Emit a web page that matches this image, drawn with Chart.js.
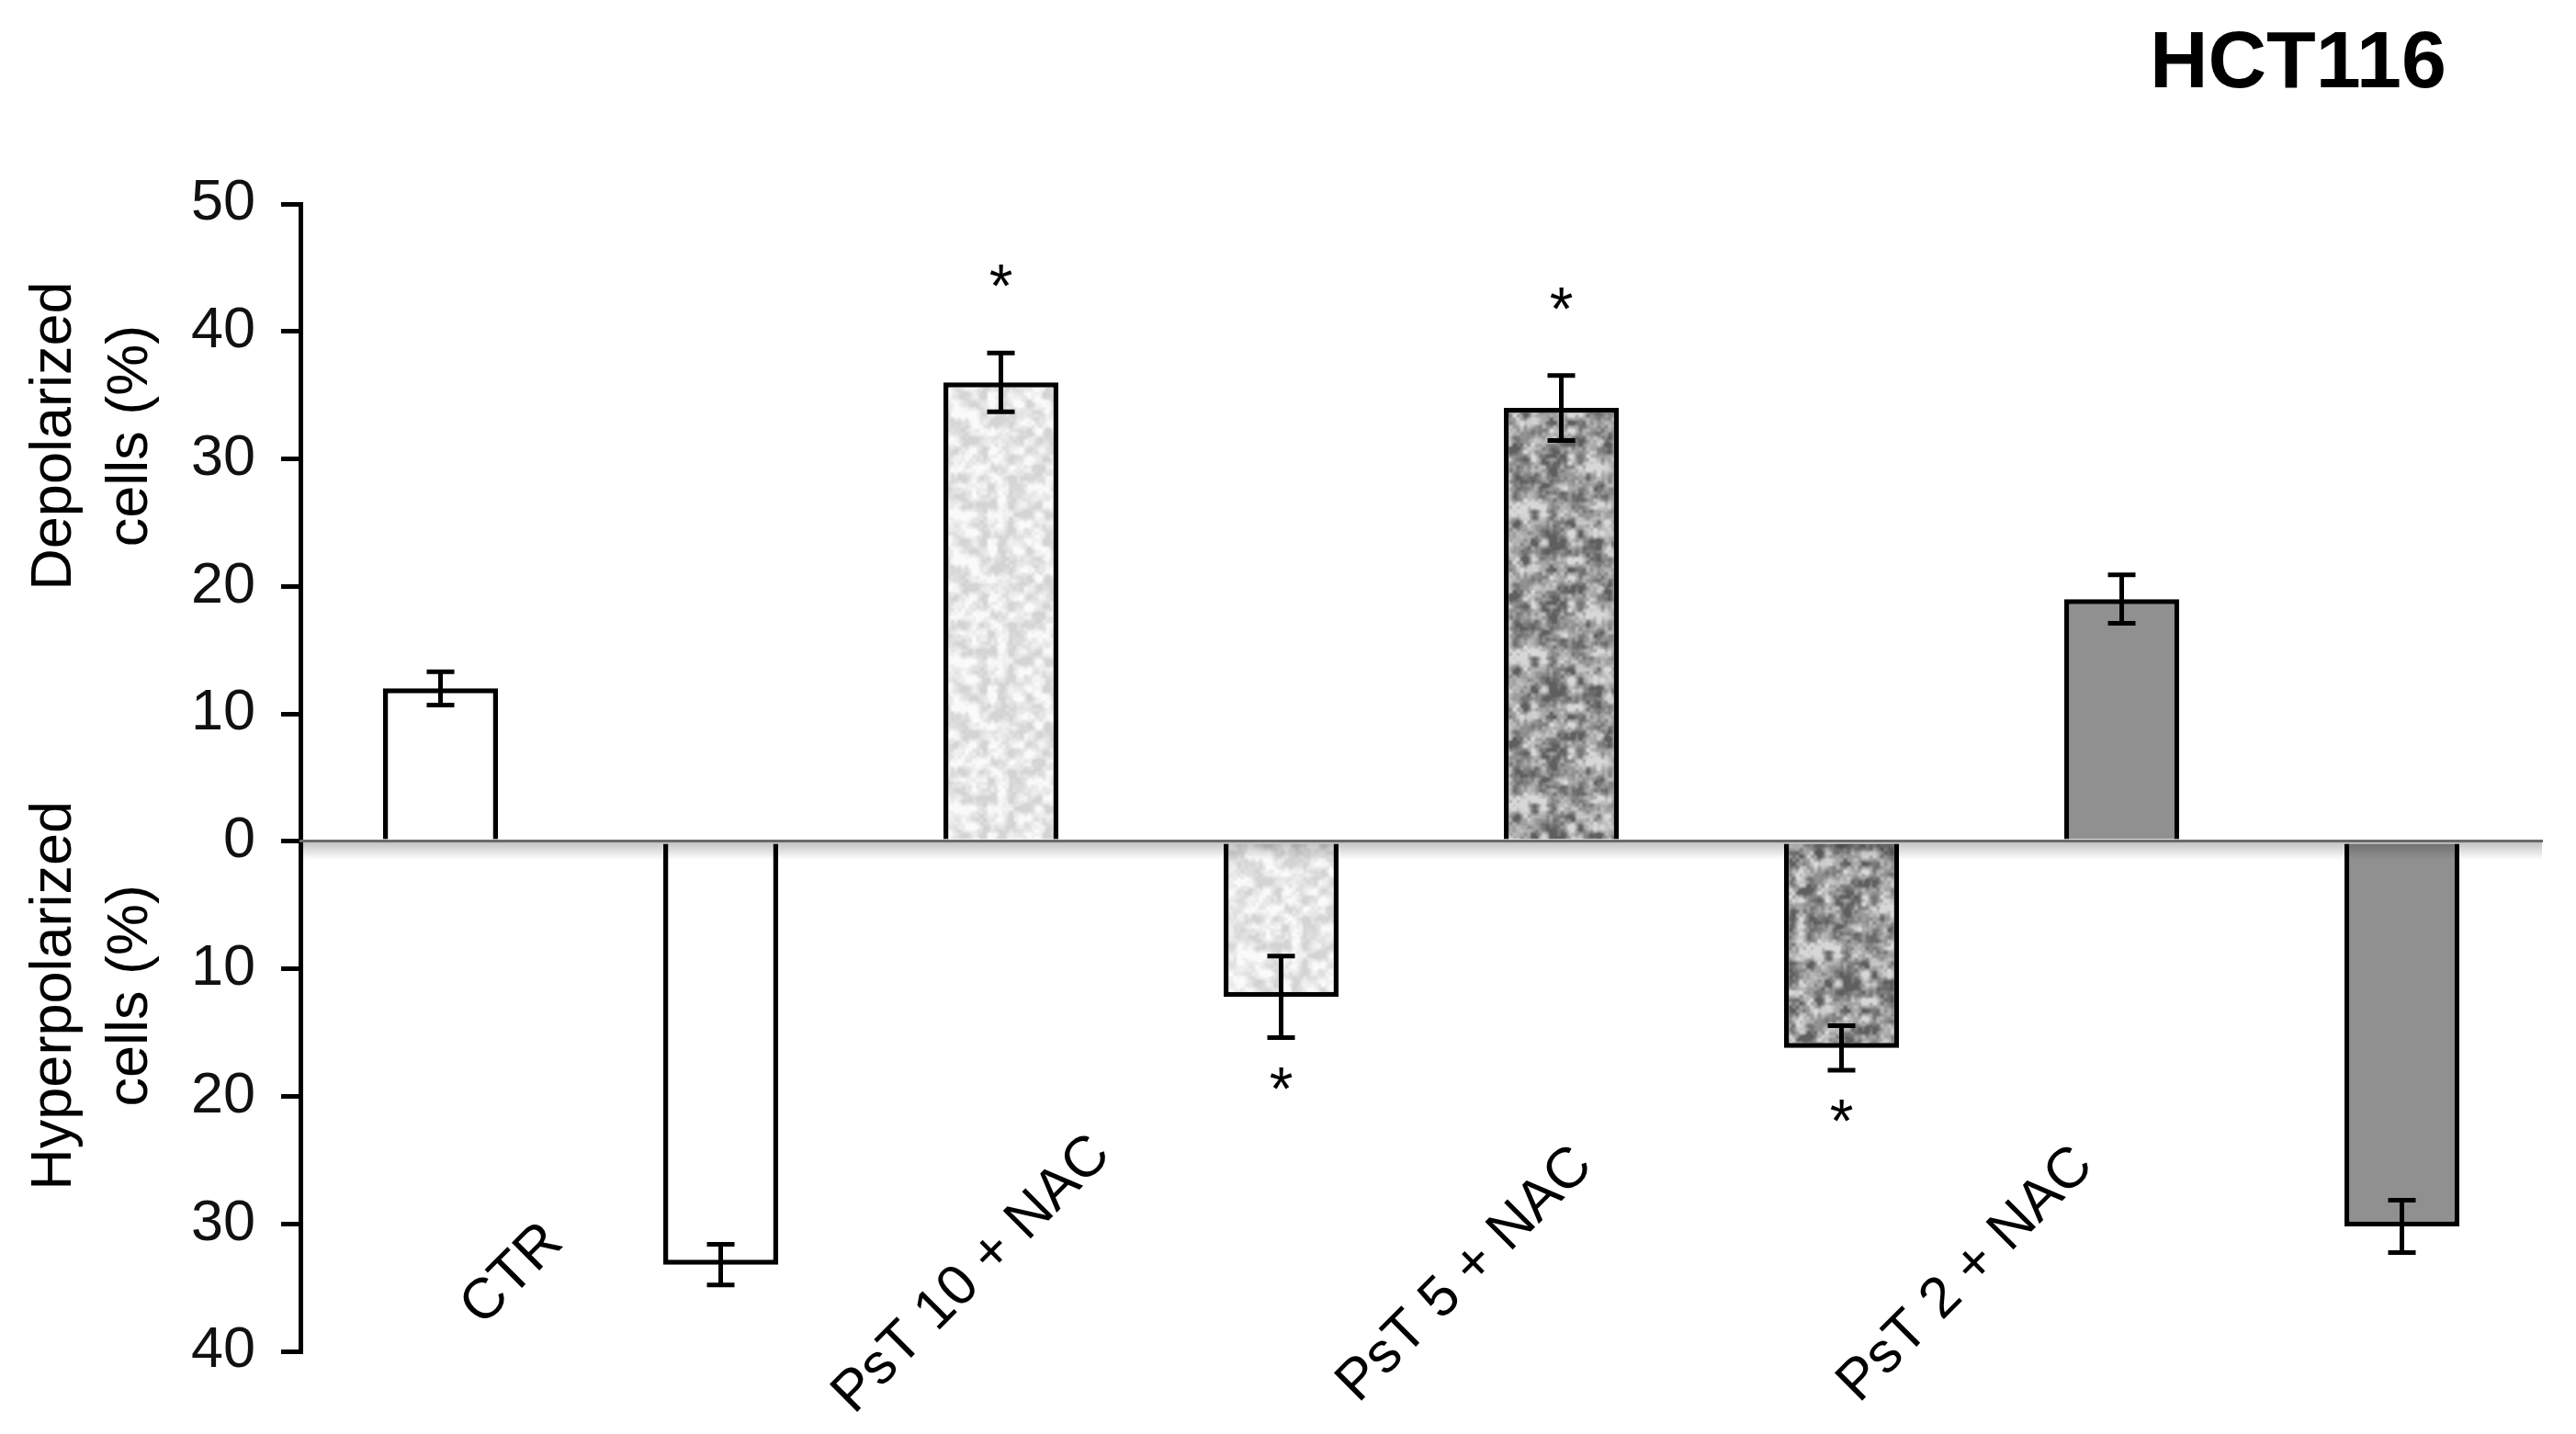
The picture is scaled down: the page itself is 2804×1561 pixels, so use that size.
<!DOCTYPE html>
<html>
<head>
<meta charset="utf-8">
<title>HCT116 membrane potential</title>
<script src="https://cdn.jsdelivr.net/npm/chart.js@4.4.1/dist/chart.umd.min.js"></script>
<style>
  html, body { margin: 0; padding: 0; background: #fff; }
  #chart { display: block; }
</style>
</head>
<body>
<canvas id="chart" width="2804" height="1561"></canvas>
<script>
// values (%)
const categories = ['CTR', 'PsT 10 + NAC', 'PsT 5 + NAC', 'PsT 2 + NAC'];
const depolarized = [12, 36, 34, 19];
const depolarizedErr = [1.3, 2.3, 2.55, 1.9];
const hyperpolarized = [-33.2, -12.2, -16.2, -30.2];
const hyperpolarizedErr = [1.6, 3.2, 1.75, 2.05];
const depolarizedStar = [false, true, true, false];
const hyperpolarizedStar = [false, true, true, false];
const yTicks = [-40, -30, -20, -10, 0, 10, 20, 30, 40, 50];
const yTitles = [['Depolarized', 'cells (%)'], ['Hyperpolarized', 'cells (%)']];

// layout of the hand placed texts
const labelLevel = -34;                 // y value where the rotated labels sit
const labelShift = [-74, -184, -257, -322];
const titleLevels = [31.8, -12.1];

const FONT = "'Liberation Sans', Arial, Helvetica, sans-serif";

// mottled fill like the original bar textures (deterministic value noise)
function speckle(light, dark, cell, contrast, seed) {
  const size = 160;
  let s = seed;
  const rnd = () => { s = (s * 1664525 + 1013904223) >>> 0; return s / 4294967296; };
  const grid = c => {
    const n = size / c;
    const vals = [];
    for (let i = 0; i < n * n; i++) vals.push(rnd());
    return (px, py) => {
      const fx = px / c, fy = py / c;
      const ix = Math.floor(fx), iy = Math.floor(fy);
      const tx = fx - ix, ty = fy - iy;
      const sx = tx * tx * (3 - 2 * tx), sy = ty * ty * (3 - 2 * ty);
      const at = (a, b) => vals[(b % n) * n + (a % n)];
      const top = at(ix, iy) * (1 - sx) + at(ix + 1, iy) * sx;
      const bot = at(ix, iy + 1) * (1 - sx) + at(ix + 1, iy + 1) * sx;
      return top * (1 - sy) + bot * sy;
    };
  };
  const coarse = grid(cell);
  const fine = grid(4);
  const c = document.createElement('canvas');
  c.width = c.height = size;
  const g = c.getContext('2d');
  const img = g.createImageData(size, size);
  for (let py = 0; py < size; py++) {
    for (let px = 0; px < size; px++) {
      let v = 0.7 * coarse(px, py) + 0.3 * fine(px, py);
      v = Math.min(1, Math.max(0, (v - 0.5) * contrast + 0.5));
      const grey = Math.round(light - (light - dark) * v);
      const k = (py * size + px) * 4;
      img.data[k] = img.data[k + 1] = img.data[k + 2] = grey;
      img.data[k + 3] = 255;
    }
  }
  g.putImageData(img, 0, 0);
  return g.createPattern(c, 'repeat');
}

const ctx = document.getElementById('chart').getContext('2d');
const fills = ['#ffffff', speckle(250, 212, 10, 2.0, 7), speckle(215, 95, 10, 1.7, 31), '#909090'];

function drawCentered(ctx, text, x, y) {
  const m = ctx.measureText(text);
  const shift = (m.actualBoundingBoxAscent - m.actualBoundingBoxDescent) / 2;
  ctx.fillText(text, x, y + shift);
}

const overlay = {
  id: 'overlay',
  afterDatasetsDraw(chart) {
    const { ctx, chartArea, scales: { y } } = chart;
    const zero = y.getPixelForValue(0);
    ctx.save();
    // soft shadow under the zero line
    const grad = ctx.createLinearGradient(0, zero, 0, zero + 20);
    grad.addColorStop(0, 'rgba(0,0,0,0.25)');
    grad.addColorStop(1, 'rgba(0,0,0,0)');
    ctx.fillStyle = grad;
    ctx.fillRect(chartArea.left, zero, chartArea.right - chartArea.left, 20);

    // error bars and significance marks
    const series = [
      [depolarized, depolarizedErr, depolarizedStar],
      [hyperpolarized, hyperpolarizedErr, hyperpolarizedStar]
    ];
    ctx.strokeStyle = '#000';
    ctx.fillStyle = '#000';
    ctx.lineWidth = 5;
    ctx.font = `66px ${FONT}`;
    ctx.textAlign = 'center';
    ctx.textBaseline = 'alphabetic';
    series.forEach(([vals, errs, stars], d) => {
      chart.getDatasetMeta(d).data.forEach((bar, i) => {
        const hi = y.getPixelForValue(vals[i] + errs[i]);
        const lo = y.getPixelForValue(vals[i] - errs[i]);
        ctx.beginPath();
        ctx.moveTo(bar.x, hi); ctx.lineTo(bar.x, lo);
        ctx.moveTo(bar.x - 15, hi); ctx.lineTo(bar.x + 15, hi);
        ctx.moveTo(bar.x - 15, lo); ctx.lineTo(bar.x + 15, lo);
        ctx.stroke();
        if (stars[i]) {
          drawCentered(ctx, '*', bar.x, vals[i] >= 0 ? hi - 84 : lo + 44);
        }
      });
    });
    ctx.restore();
  },
  afterDraw(chart) {
    const { ctx, scales: { x, y } } = chart;
    ctx.save();
    ctx.fillStyle = '#000';

    // rotated category labels
    ctx.font = `62px ${FONT}`;
    ctx.textAlign = 'center';
    ctx.textBaseline = 'middle';
    categories.forEach((name, i) => {
      ctx.save();
      ctx.translate(x.getPixelForValue(i) + labelShift[i], y.getPixelForValue(labelLevel));
      ctx.rotate(-Math.PI / 4);
      ctx.fillText(name, 0, 0);
      ctx.restore();
    });

    // two-line axis titles
    ctx.font = `63px ${FONT}`;
    yTitles.forEach((lines, k) => {
      ctx.save();
      ctx.translate(0, y.getPixelForValue(titleLevels[k]));
      ctx.rotate(-Math.PI / 2);
      ctx.fillText(lines[0], 0, 60);
      ctx.fillText(lines[1], 0, 143);
      ctx.restore();
    });

    // panel title
    ctx.font = `bold 88px ${FONT}`;
    ctx.textAlign = 'left';
    ctx.textBaseline = 'alphabetic';
    ctx.fillText('HCT116', 2340, 95);
    ctx.restore();
  }
};

const barStyle = {
  backgroundColor: fills,
  borderColor: '#000',
  borderWidth: 5.5,
  borderSkipped: 'start',
  categoryPercentage: 1,
  barPercentage: 0.41
};

new Chart(ctx, {
  type: 'bar',
  data: {
    labels: categories,
    datasets: [
      { label: 'Depolarized cells (%)', data: depolarized, ...barStyle },
      { label: 'Hyperpolarized cells (%)', data: hyperpolarized, ...barStyle }
    ]
  },
  options: {
    responsive: false,
    devicePixelRatio: 1,
    animation: false,
    events: [],
    layout: { padding: { left: 0, right: 37, top: 222, bottom: 90 } },
    plugins: {
      legend: { display: false },
      tooltip: { enabled: false }
    },
    scales: {
      x: {
        position: { y: 0 },
        offset: true,
        grid: { display: false },
        ticks: { display: false },
        border: { display: true, color: '#6a6a6a', width: 3, z: 1 }
      },
      y: {
        min: yTicks[0],
        max: yTicks[yTicks.length - 1],
        afterBuildTicks: scale => { scale.ticks = yTicks.map(v => ({ value: v })); },
        afterFit: scale => { scale.width = 327; },
        ticks: {
          callback: v => String(Math.abs(v)),
          font: { family: FONT, size: 63 },
          color: '#111',
          padding: 28
        },
        grid: { drawOnChartArea: false, drawTicks: true, tickLength: 21, color: '#000', lineWidth: 5 },
        border: { display: true, color: '#000', width: 5 }
      }
    }
  },
  plugins: [overlay]
});
</script>
</body>
</html>
